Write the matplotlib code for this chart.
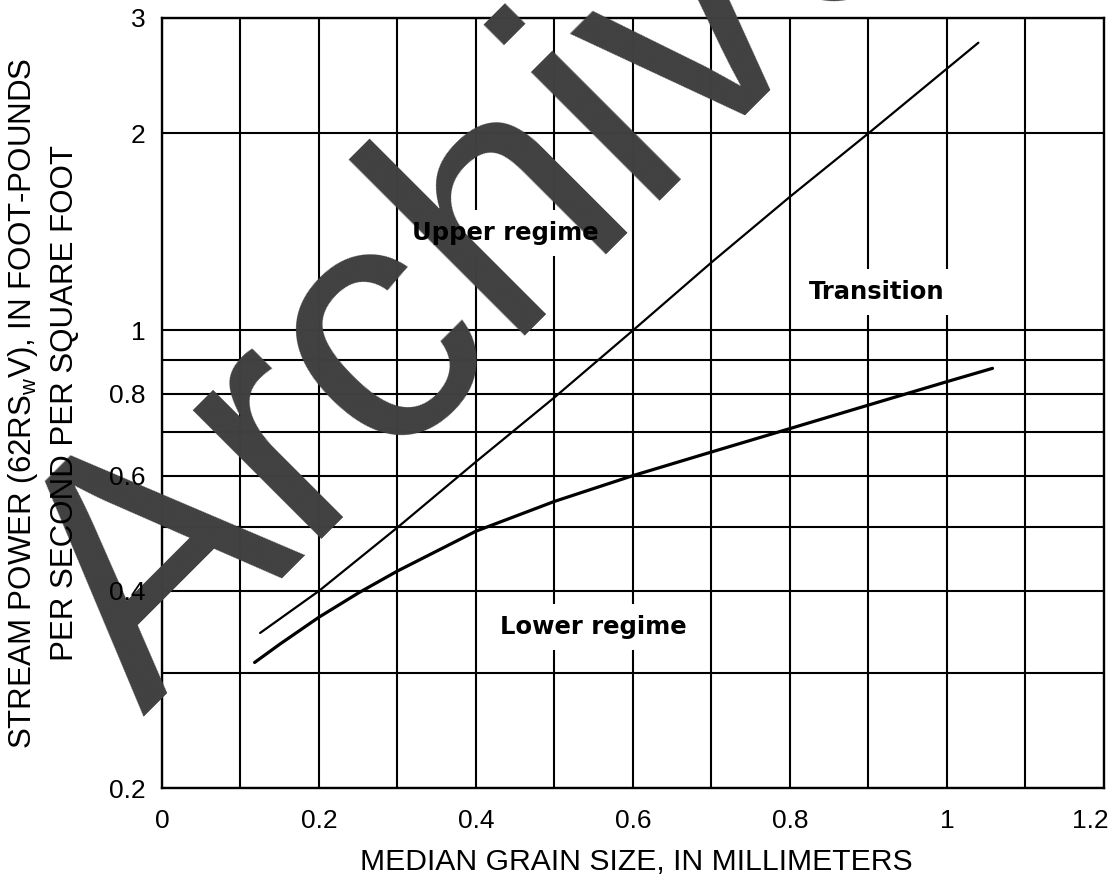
import matplotlib
matplotlib.use("Agg")
import matplotlib.pyplot as plt
from matplotlib.ticker import FixedLocator, FixedFormatter
from matplotlib.transforms import ScaledTranslation

plt.rcParams['font.family'] = ['Liberation Sans', 'DejaVu Sans']

# boundary curves, grain size (mm) vs stream power
upper_x = [0.125, 0.2, 0.3, 0.4, 0.5, 0.6, 0.7, 0.8, 0.9, 1.04]
upper_y = [0.345, 0.40, 0.50, 0.63, 0.79, 1.0, 1.27, 1.60, 2.0, 2.75]
lower_x = [0.118, 0.15, 0.2, 0.25, 0.3, 0.4, 0.5, 0.6, 0.7, 0.8, 0.9, 1.0, 1.058]
lower_y = [0.311, 0.3316, 0.3647, 0.397, 0.429, 0.4935, 0.548, 0.60, 0.652, 0.708, 0.769, 0.835, 0.875]

x_ticks = [0, 0.2, 0.4, 0.6, 0.8, 1.0, 1.2]
x_ticklabels = ['0', '0.2', '0.4', '0.6', '0.8', '1', '1.2']
x_minor = [0.1, 0.3, 0.5, 0.7, 0.9, 1.1]
y_ticks = [0.2, 0.4, 0.6, 0.8, 1, 2, 3]
y_ticklabels = ['0.2', '0.4', '0.6', '0.8', '1', '2', '3']
y_minor = [0.3, 0.5, 0.7, 0.9]

regions = ['Upper regime', 'Transition', 'Lower regime']
region_x = [0.437, 0.91, 0.55]
region_y = [1.41, 1.145, 0.352]

fig = plt.figure(figsize=(11.14, 8.86), dpi=100)
rect = [0.1454, 0.1106, 0.8456, 0.8691]

# bottom layer: frame and grid only
axg = fig.add_axes(rect)
axg.set_zorder(0)
axg.set_yscale('log')
axg.set_xlim(0, 1.2)
axg.set_ylim(0.2, 3)

# top layer: curves and all black text
ax = fig.add_axes(rect, sharex=axg, sharey=axg)
ax.set_zorder(2)
ax.patch.set_visible(False)
for s in ax.spines.values():
    s.set_visible(False)

ax.xaxis.set_major_locator(FixedLocator(x_ticks))
ax.xaxis.set_major_formatter(FixedFormatter(x_ticklabels))
ax.xaxis.set_minor_locator(FixedLocator(x_minor))
ax.yaxis.set_major_locator(FixedLocator(y_ticks))
ax.yaxis.set_major_formatter(FixedFormatter(y_ticklabels))
ax.yaxis.set_minor_locator(FixedLocator(y_minor))
ax.yaxis.set_minor_formatter(FixedFormatter([''] * len(y_minor)))

axg.grid(True, which='both', color='black', lw=1.5)
axg.tick_params(axis='both', which='both', length=0,
                labelleft=False, labelbottom=False)
for s in axg.spines.values():
    s.set_linewidth(1.7)

ax.tick_params(axis='both', which='both', length=0, labelsize=19)
ax.tick_params(axis='x', pad=15)
ax.tick_params(axis='y', pad=12)

ax.plot(upper_x, upper_y, color='black', lw=1.6, solid_capstyle='round')
ax.plot(lower_x, lower_y, color='black', lw=2.3, solid_capstyle='round')

# region names: white boxes break the grid, text goes on top
for name, rx, ry in zip(regions, region_x, region_y):
    axg.text(rx, ry, name, ha='center', va='center', fontsize=17.5,
             family='DejaVu Sans', fontweight='bold', color='white', zorder=3,
             bbox=dict(boxstyle='square,pad=0.45', fc='white', ec='none'))
    ax.text(rx, ry, name, ha='center', va='center', fontsize=17.5,
            family='DejaVu Sans', fontweight='bold', color='black', zorder=5)

ax.text(-0.1265, 0.5,
        'STREAM POWER (62RS$_\\mathregular{w}$V), IN FOOT-POUNDS\nPER SECOND PER SQUARE FOOT',
        transform=ax.transAxes, rotation=90, ha='center', va='center',
        fontsize=22.5, linespacing=1.45, zorder=5)
ax.text(0.504, -0.096, 'MEDIAN GRAIN SIZE, IN MILLIMETERS',
        transform=ax.transAxes, ha='center', va='center', fontsize=21.7, zorder=5)

# watermark between the grid layer and the text layer
fig.text(0.1284, 0.1907, 'Archive', rotation=45, rotation_mode='anchor',
         ha='left', va='baseline', fontsize=248, color='#404040', zorder=1)

# keep the last x label inside the canvas
fig.canvas.draw()
last = ax.xaxis.get_major_ticks()[-1].label1
last.set_transform(last.get_transform() +
                   ScaledTranslation(-10 / 72, 0, fig.dpi_scale_trans))

fig.savefig('out.png', dpi=100)
